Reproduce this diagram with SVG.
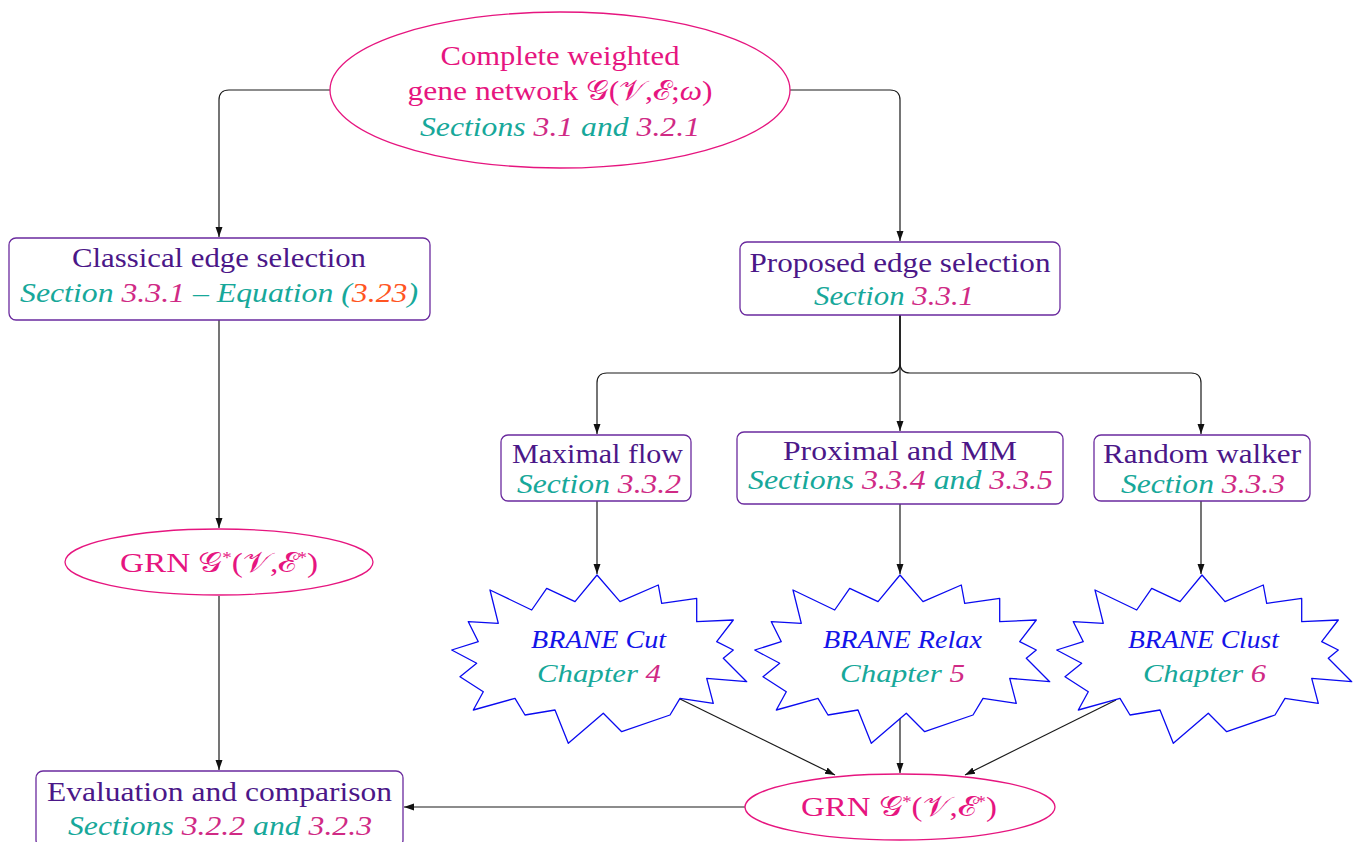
<svg xmlns="http://www.w3.org/2000/svg" xmlns:xlink="http://www.w3.org/1999/xlink" width="1356" height="842" viewBox="0 0 1356 842">
<defs>
<marker id="arr" viewBox="0 0 10 10" refX="10" refY="5" markerWidth="10" markerHeight="10" markerUnits="userSpaceOnUse" orient="auto"><path d="M0,1.5 L10,5 L0,8.5 z" fill="#111"/></marker>
<polygon id="star" points="0,-80 23,-53.3 61.3,-70 64.7,-51.7 99.7,-56.7 99.7,-33.3 136.3,-35 119.7,-13.3 136.3,-5 126.3,3.3 149.7,26.7 109.7,23.3 116.3,48.3 83,43.3 73,60 24.7,76.7 6.3,58.3 -28.7,88.3 -42,55 -72,60 -82,43.3 -123.7,55 -113.7,36.7 -137,21.7 -120.3,8.3 -145.3,-5 -118.7,-13.3 -128.7,-33.3 -98.7,-31.7 -107,-65 -65.3,-45 -50.3,-66.7 -22,-53.3"/>
</defs>
<style>
text{font-family:"Liberation Serif","DejaVu Serif",serif;font-size:28px;text-anchor:middle}
.ttl{fill:#4b1788}
.pk{fill:#e6157f}
.it{font-style:italic}
.tl{fill:#17a89a}
.nm{fill:#d02a85}
.or{fill:#ff5522}
.bl{fill:#1414e8}
.box{fill:#fff;stroke:#6a2a9e;stroke-width:1.3}
.ell{fill:#fff;stroke:#e6157f;stroke-width:1.3}
.st{fill:#fff;stroke:#0a0af0;stroke-width:1.3;stroke-linejoin:round}
.con path{fill:none;stroke:#1a1a1a;stroke-width:1.2;marker-end:url(#arr)}
.sup{font-size:16px}
.sm{font-size:25px}
</style>
<rect width="1356" height="842" fill="#fff"/>
<g id="connectors" class="con">
<path d="M330,90 H229 Q219,90 219,100 V237"/>
<path d="M790,90 H890 Q900,90 900,100 V241"/>
<path d="M219,320 V528"/>
<path d="M219,596 V770"/>
<path d="M900,315 V431"/>
<path d="M900,315 V363 Q900,373 890,373 H607 Q597,373 597,383 V434"/>
<path d="M900,315 V363 Q900,373 910,373 H1191 Q1201,373 1201,383 V434"/>
<path d="M597,501 V574"/>
<path d="M900,504 V574"/>
<path d="M1201,501 V574"/>
<path d="M680,699 L835,775"/>
<path d="M900,713 V773"/>
<path d="M1116,700 L965,775"/>
<path d="M745,807 H404"/>
</g>
<g id="complete">
<ellipse class="ell" cx="560" cy="90" rx="230" ry="78"/>
<text class="pk" x="560" y="65" textLength="239" lengthAdjust="spacingAndGlyphs">Complete weighted</text>
<text class="pk" x="560" y="100" textLength="305" lengthAdjust="spacingAndGlyphs">gene network 𝒢(𝒱,ℰ;<tspan class="it">ω</tspan>)</text>
<text class="it" x="560" y="136" textLength="280" lengthAdjust="spacingAndGlyphs"><tspan class="tl">Sections </tspan><tspan class="nm">3.1</tspan><tspan class="tl"> and </tspan><tspan class="nm">3.2.1</tspan></text>
</g>
<g id="classical">
<rect class="box" x="9" y="238" width="421" height="82" rx="7"/>
<text class="ttl" x="219" y="267" textLength="294" lengthAdjust="spacingAndGlyphs">Classical edge selection</text>
<text class="it" x="219" y="302" textLength="398" lengthAdjust="spacingAndGlyphs"><tspan class="tl">Section </tspan><tspan class="nm">3.3.1</tspan><tspan class="tl"> – Equation (</tspan><tspan class="or">3.23</tspan><tspan class="tl">)</tspan></text>
</g>
<g id="proposed">
<rect class="box" x="740" y="242" width="320" height="73" rx="7"/>
<text class="ttl" x="900" y="272" textLength="301" lengthAdjust="spacingAndGlyphs">Proposed edge selection</text>
<text class="it" x="894" y="305" textLength="160" lengthAdjust="spacingAndGlyphs"><tspan class="tl">Section </tspan><tspan class="nm">3.3.1</tspan></text>
</g>
<g id="maxflow">
<rect class="box" x="501" y="435" width="190" height="66" rx="7"/>
<text class="ttl" x="597.5" y="463" textLength="171" lengthAdjust="spacingAndGlyphs">Maximal flow</text>
<text class="it" x="599" y="493" textLength="164" lengthAdjust="spacingAndGlyphs"><tspan class="tl">Section </tspan><tspan class="nm">3.3.2</tspan></text>
</g>
<g id="proximal">
<rect class="box" x="737" y="432" width="326" height="72" rx="7"/>
<text class="ttl" x="900" y="460" textLength="234" lengthAdjust="spacingAndGlyphs">Proximal and MM</text>
<text class="it" x="900.5" y="489" textLength="305" lengthAdjust="spacingAndGlyphs"><tspan class="tl">Sections </tspan><tspan class="nm">3.3.4</tspan><tspan class="tl"> and </tspan><tspan class="nm">3.3.5</tspan></text>
</g>
<g id="random">
<rect class="box" x="1094" y="435" width="216" height="66" rx="7"/>
<text class="ttl" x="1202" y="463" textLength="198" lengthAdjust="spacingAndGlyphs">Random walker</text>
<text class="it" x="1203" y="493" textLength="164" lengthAdjust="spacingAndGlyphs"><tspan class="tl">Section </tspan><tspan class="nm">3.3.3</tspan></text>
</g>
<g id="branecut">
<use xlink:href="#star" href="#star" class="st" transform="translate(597,655)"/>
<text class="it bl sm" x="598.5" y="648" textLength="135" lengthAdjust="spacingAndGlyphs">BRANE Cut</text>
<text class="it sm" x="599" y="682" textLength="124" lengthAdjust="spacingAndGlyphs"><tspan class="tl">Chapter </tspan><tspan class="nm">4</tspan></text>
</g>
<g id="branerelax">
<use xlink:href="#star" href="#star" class="st" transform="translate(900,655)"/>
<text class="it bl sm" x="902.5" y="648" textLength="159" lengthAdjust="spacingAndGlyphs">BRANE Relax</text>
<text class="it sm" x="902.5" y="682" textLength="125" lengthAdjust="spacingAndGlyphs"><tspan class="tl">Chapter </tspan><tspan class="nm">5</tspan></text>
</g>
<g id="braneclust">
<use xlink:href="#star" href="#star" class="st" transform="translate(1202,655)"/>
<text class="it bl sm" x="1203.5" y="648" textLength="151" lengthAdjust="spacingAndGlyphs">BRANE Clust</text>
<text class="it sm" x="1204.5" y="682" textLength="123" lengthAdjust="spacingAndGlyphs"><tspan class="tl">Chapter </tspan><tspan class="nm">6</tspan></text>
</g>
<g id="grn-left">
<ellipse class="ell" cx="219" cy="562" rx="154" ry="33"/>
<text class="pk" x="219" y="572" textLength="198" lengthAdjust="spacingAndGlyphs">GRN 𝒢<tspan class="sup" dy="-9">*</tspan><tspan dy="9">(𝒱,ℰ</tspan><tspan class="sup" dy="-9">*</tspan><tspan dy="9">)</tspan></text>
</g>
<g id="grn-right">
<ellipse class="ell" cx="900" cy="807" rx="155" ry="33"/>
<text class="pk" x="899" y="816" textLength="196" lengthAdjust="spacingAndGlyphs">GRN 𝒢<tspan class="sup" dy="-9">*</tspan><tspan dy="9">(𝒱,ℰ</tspan><tspan class="sup" dy="-9">*</tspan><tspan dy="9">)</tspan></text>
</g>
<g id="evaluation">
<rect class="box" x="36" y="771" width="367" height="76" rx="7"/>
<text class="ttl" x="219.5" y="801" textLength="345" lengthAdjust="spacingAndGlyphs">Evaluation and comparison</text>
<text class="it" x="220" y="835" textLength="304" lengthAdjust="spacingAndGlyphs"><tspan class="tl">Sections </tspan><tspan class="nm">3.2.2</tspan><tspan class="tl"> and </tspan><tspan class="nm">3.2.3</tspan></text>
</g>
</svg>
